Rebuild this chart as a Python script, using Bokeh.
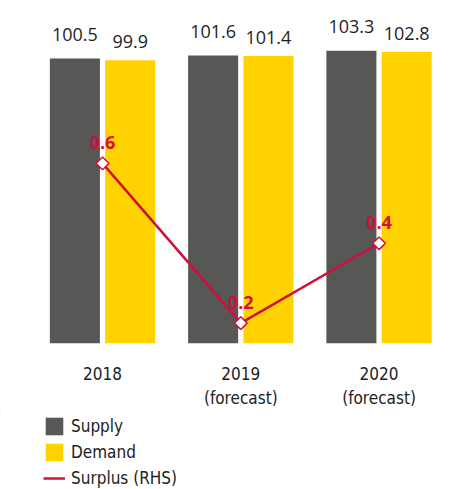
from bokeh.plotting import figure
from bokeh.layouts import column
from bokeh.models import ColumnDataSource, Range1d, FixedTicker, Legend, LegendItem
from bokeh.transform import dodge
from bokeh.embed import file_html
from bokeh.resources import INLINE
from bokeh.core.properties import value

years = ["2018", "2019\n(forecast)", "2020\n(forecast)"]
supply = [100.5, 101.6, 103.3]
demand = [99.9, 101.4, 102.8]
surplus = [0.6, 0.2, 0.4]
series_names = ["Supply", "Demand", "Surplus (RHS)"]

GRAY = "#575756"
YELLOW = "#FFD200"
RED = "#D0103A"
NARROW = "DejaVu Sans Condensed"

pos = list(range(len(years)))
src = ColumnDataSource(dict(
    x=pos, supply=supply, demand=demand, surplus=surplus,
    supply_lbl=[f"{v:.1f}" for v in supply],
    demand_lbl=[f"{v:.1f}" for v in demand],
    surplus_lbl=[f"{v:.1f}" for v in surplus],
))

p = figure(width=451, height=410, output_backend="svg", toolbar_location=None,
           x_range=Range1d(-0.738, 2.524), y_range=Range1d(0, 121.0),
           y_axis_location=None, min_border_left=0, min_border_right=0,
           min_border_top=0, min_border_bottom=62)
p.extra_y_ranges = {"rhs": Range1d(0.149, 1.008)}

p.vbar(x=dodge("x", -0.2, range=p.x_range), top="supply", width=0.362,
       source=src, fill_color=GRAY, line_color=None)
p.vbar(x=dodge("x", 0.2, range=p.x_range), top="demand", width=0.362,
       source=src, fill_color=YELLOW, line_color=None)
p.line("x", "surplus", source=src, y_range_name="rhs", color=RED, line_width=2.5)
p.scatter("x", "surplus", source=src, y_range_name="rhs", marker="square",
          angle=0.785398, size=9, fill_color="white", line_color=RED, line_width=1.5)

p.text(x=dodge("x", -0.2, range=p.x_range), y="supply", text="supply_lbl", source=src,
       text_align="center", text_baseline="alphabetic", y_offset=-24,
       text_font=value("Open Sans"), text_font_size="18px", text_color="#1e1e1e")
p.text(x=dodge("x", 0.2, range=p.x_range), y="demand", text="demand_lbl", source=src,
       text_align="center", text_baseline="alphabetic", y_offset=-19,
       text_font=value("Open Sans"), text_font_size="18px", text_color="#1e1e1e")
p.text(x="x", y="surplus", text="surplus_lbl", source=src, y_range_name="rhs",
       text_align="center", text_baseline="alphabetic", y_offset=-21,
       text_font=value("Open Sans"), text_font_style="bold", text_font_size="18px",
       text_color=RED)

p.xaxis.ticker = FixedTicker(ticks=pos)
p.xaxis.major_label_overrides = {i: lbl for i, lbl in enumerate(years)}
p.xaxis.axis_line_color = None
p.xaxis.major_tick_line_color = None
p.xaxis.minor_tick_line_color = None
p.xaxis.major_label_text_font = NARROW
p.xaxis.major_label_text_font_size = "17px"
p.xaxis.major_label_text_color = "#222222"
p.xaxis.major_label_standoff = 14
p.xgrid.visible = False
p.ygrid.visible = False
p.outline_line_color = None

# legend panel: same source, ranges chosen so that no data falls in view
p2 = figure(width=451, height=79, output_backend="svg", toolbar_location=None,
            x_range=Range1d(100, 101), y_range=Range1d(-200, -199),
            x_axis_location=None, y_axis_location=None,
            min_border_left=0, min_border_right=0, min_border_top=0, min_border_bottom=0)
p2.xgrid.visible = False
p2.ygrid.visible = False
p2.outline_line_color = None
l_sup = p2.vbar(x="x", top="supply", width=0.362, source=src,
                fill_color=GRAY, line_color=None)
l_dem = p2.vbar(x="x", top="demand", width=0.362, source=src,
                fill_color=YELLOW, line_color=None)
l_sur = p2.line("x", "surplus", source=src, color=RED, line_width=2.5)

legend = Legend(items=[
    LegendItem(label=series_names[0], renderers=[l_sup]),
    LegendItem(label=series_names[1], renderers=[l_dem]),
    LegendItem(label=series_names[2], renderers=[l_sur]),
], orientation="vertical", location=(43, 0), glyph_width=22, glyph_height=22,
    label_standoff=6, spacing=4, padding=0, margin=0, border_line_color=None,
    background_fill_alpha=0, label_text_font=NARROW, label_text_font_size="17px",
    label_height=22, label_text_color="#222222")
p2.add_layout(legend, "center")

open("out.html", "w").write(file_html(column(p, p2, spacing=0), INLINE))
